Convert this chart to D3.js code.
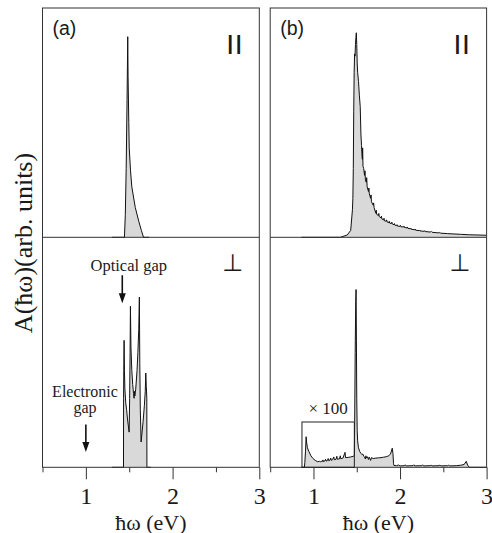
<!DOCTYPE html>
<html>
<head>
<meta charset="utf-8">
<script src="https://cdn.jsdelivr.net/npm/d3@7"></script>
<style>
  body { margin: 0; background: #fff; }
  .serif { font-family: "Liberation Serif", "Times New Roman", serif; }
  .sans { font-family: "Liberation Sans", Arial, sans-serif; }
</style>
</head>
<body>
<div id="chart"></div>
<script>
// photon energy (eV) and absorption (arb. units, 1 = top of the sub-panel)
const aParE = [1.30, 1.445, 1.455, 1.465, 1.475, 1.483, 1.487, 1.495, 1.50, 1.515, 1.53, 1.57, 1.61, 1.64, 1.665, 1.73];
const aParA = [0, 0, 0.1, 0.3, 0.6, 0.875, 0.7, 0.5, 0.39, 0.29, 0.22, 0.13, 0.07, 0.03, 0, 0];

const aPerpE = [1.30, 1.434, 1.435, 1.438, 1.441, 1.445, 1.45, 1.46, 1.47, 1.48, 1.49, 1.499, 1.505, 1.51, 1.514,
  1.52, 1.53, 1.54, 1.55, 1.556, 1.56, 1.565, 1.575, 1.59, 1.60, 1.61, 1.617, 1.622, 1.628, 1.637, 1.645,
  1.66, 1.675, 1.685, 1.691, 1.697, 1.703, 1.704, 1.75];
const aPerpA = [0, 0, 0.3, 0.45, 0.552, 0.42, 0.34, 0.28, 0.25, 0.21, 0.18, 0.153, 0.3, 0.5, 0.70,
  0.52, 0.42, 0.36, 0.32, 0.30, 0.33, 0.31, 0.34, 0.42, 0.5, 0.6, 0.74, 0.45, 0.25, 0.11, 0.14,
  0.2, 0.27, 0.33, 0.41, 0.35, 0.3, 0, 0];

const bParE = [0.86, 1.31, 1.39, 1.43, 1.45, 1.455, 1.46, 1.465, 1.47, 1.475, 1.48, 1.485, 1.49, 1.495, 1.50,
  1.505, 1.51, 1.52, 1.53, 1.54, 1.548, 1.555, 1.56, 1.565, 1.568, 1.572, 1.58, 1.59, 1.595, 1.60, 1.61,
  1.615, 1.62, 1.635, 1.64, 1.645, 1.66, 1.665, 1.67, 1.69, 1.695, 1.70, 1.72, 1.725, 1.73, 1.75, 1.755,
  1.76, 1.78, 1.785, 1.79, 1.81, 1.815, 1.82, 1.84, 1.845, 1.85, 1.87, 1.875, 1.88, 1.90, 1.905, 1.91,
  1.93, 1.935, 1.94, 1.96, 1.965, 1.97, 2.00, 2.005, 2.01, 2.04, 2.045, 2.05, 2.08, 2.085, 2.09, 2.12,
  2.125, 2.13, 2.17, 2.175, 2.18, 2.22, 2.225, 2.23, 2.28, 2.285, 2.29, 2.35, 2.36, 2.37, 2.45, 2.46,
  2.47, 2.55, 2.60, 2.70, 2.80, 2.90, 3.00];
const bParA = [0, 0, 0.01, 0.03, 0.12, 0.17, 0.3, 0.55, 0.72, 0.8, 0.79, 0.84, 0.87, 0.892, 0.84,
  0.76, 0.72, 0.68, 0.62, 0.57, 0.45, 0.40, 0.36, 0.34, 0.39, 0.31, 0.30, 0.27, 0.29, 0.25, 0.24,
  0.26, 0.22, 0.20, 0.215, 0.19, 0.17, 0.185, 0.155, 0.14, 0.15, 0.13, 0.105, 0.118, 0.10, 0.095, 0.104,
  0.09, 0.085, 0.092, 0.08, 0.076, 0.083, 0.072, 0.07, 0.076, 0.067, 0.064, 0.07, 0.062, 0.06, 0.066, 0.058,
  0.055, 0.06, 0.053, 0.051, 0.055, 0.049, 0.048, 0.052, 0.046, 0.045, 0.049, 0.043, 0.041, 0.045, 0.039, 0.037,
  0.040, 0.035, 0.033, 0.036, 0.031, 0.029, 0.032, 0.028, 0.026, 0.029, 0.025, 0.023, 0.026, 0.022, 0.019, 0.021,
  0.018, 0.016, 0.015, 0.013, 0.011, 0.01, 0.009];

const bPerpE = [0.86, 0.895, 0.90, 0.908, 0.915, 0.92, 0.93, 0.945, 0.956, 0.97, 0.995, 1.02, 1.05, 1.07, 1.08,
  1.09, 1.10, 1.11, 1.115, 1.13, 1.14, 1.145, 1.16, 1.17, 1.175, 1.19, 1.20, 1.205, 1.22, 1.235, 1.24,
  1.26, 1.27, 1.275, 1.30, 1.31, 1.315, 1.34, 1.365, 1.37, 1.40, 1.43, 1.46, 1.472, 1.476, 1.482, 1.488,
  1.492, 1.496, 1.50, 1.505, 1.51, 1.52, 1.535, 1.55, 1.56, 1.57, 1.58, 1.59, 1.60, 1.605, 1.615, 1.625,
  1.635, 1.645, 1.66, 1.67, 1.69, 1.72, 1.75, 1.78, 1.81, 1.84, 1.87, 1.89, 1.91, 1.918, 1.925, 1.93,
  1.96, 1.98, 2.0, 2.05, 2.06, 2.07, 2.15, 2.16, 2.17, 2.25, 2.26, 2.27, 2.35, 2.36, 2.37, 2.45,
  2.46, 2.47, 2.55, 2.56, 2.57, 2.65, 2.70, 2.74, 2.765, 2.78, 2.80, 3.0];
const bPerpA = [0, 0, 0.02, 0.07, 0.133, 0.11, 0.085, 0.07, 0.062, 0.05, 0.038, 0.03, 0.024, 0.026, 0.023,
  0.027, 0.024, 0.032, 0.025, 0.027, 0.035, 0.027, 0.029, 0.038, 0.029, 0.031, 0.04, 0.03, 0.033, 0.045, 0.033,
  0.035, 0.048, 0.035, 0.037, 0.05, 0.037, 0.04, 0.065, 0.042, 0.043, 0.045, 0.048, 0.05, 0.2, 0.5, 0.72,
  0.773, 0.55, 0.3, 0.16, 0.115, 0.085, 0.068, 0.06, 0.055, 0.058, 0.048, 0.045, 0.036, 0.05, 0.04, 0.046,
  0.034, 0.044, 0.03, 0.042, 0.038, 0.04, 0.041, 0.042, 0.044, 0.046, 0.05, 0.058, 0.083, 0.06, 0.015, 0.008,
  0.007, 0.01, 0.006, 0.007, 0.011, 0.006, 0.007, 0.011, 0.006, 0.007, 0.011, 0.006, 0.007, 0.01, 0.006, 0.007,
  0.01, 0.006, 0.007, 0.01, 0.006, 0.007, 0.009, 0.012, 0.026, 0.01, 0, 0];

// "x 100" inset box in (b) perp, eV range and height
const boxE = [0.867, 1.472];
const boxTop = 0.197;

const majorTicks = [1, 2, 3];
const minorTicks = [0.5, 1.5, 2.5];

const width = 492;
const height = 533;
const fillGrey = "#d9d9d9";
const ink = "#1a1a1a";

const svg = d3.create("svg")
  .attr("width", width)
  .attr("height", height)
  .attr("viewBox", [0, 0, width, height]);

svg.append("rect").attr("width", width).attr("height", height).attr("fill", "#fff");

const yTop = d3.scaleLinear([0, 1], [237.3, 8]);
const yBot = d3.scaleLinear([0, 1], [467.3, 237.3]);

const panels = [
  { x: d3.scaleLinear([0.5, 3], [42.5, 259.3]), label: "(a)", par: [aParE, aParA], perp: [aPerpE, aPerpA] },
  { x: d3.scaleLinear([0.5, 3], [270.2, 486.6]), label: "(b)", par: [bParE, bParA], perp: [bPerpE, bPerpA] }
];

function drawCurve(g, x, y, [es, as]) {
  const pts = es.map((e, i) => [e, as[i]]);
  g.append("path")
    .datum(pts)
    .attr("d", d3.area().x((d) => x(d[0])).y0(y(0)).y1((d) => y(d[1])))
    .attr("fill", fillGrey);
  g.append("path")
    .datum(pts)
    .attr("d", d3.line().x((d) => x(d[0])).y((d) => y(d[1])))
    .attr("fill", "none")
    .attr("stroke", "#111")
    .attr("stroke-width", 1)
    .attr("stroke-linejoin", "round");
}

panels.forEach((p) => {
  const g = svg.append("g");
  const [x0, x1] = p.x.range();

  drawCurve(g, p.x, yTop, p.par);
  drawCurve(g, p.x, yBot, p.perp);

  // frame and divider
  g.append("rect")
    .attr("x", x0).attr("y", yTop(1))
    .attr("width", x1 - x0).attr("height", yBot(0) - yTop(1))
    .attr("fill", "none").attr("stroke", "#333").attr("stroke-width", 1);
  g.append("line")
    .attr("x1", x0).attr("x2", x1)
    .attr("y1", yTop(0)).attr("y2", yTop(0))
    .attr("stroke", "#333").attr("stroke-width", 1);

  // axis
  const axisMajor = g.append("g")
    .attr("transform", `translate(0,${yBot(0)})`)
    .call(d3.axisBottom(p.x).tickValues(majorTicks).tickSize(12).tickPadding(7.5).tickFormat(d3.format("d")));
  axisMajor.select(".domain").remove();
  axisMajor.attr("font-family", null).attr("font-size", null);
  axisMajor.selectAll("text")
    .attr("class", "serif")
    .style("font-size", "24px")
    .attr("fill", ink);
  axisMajor.selectAll("line").attr("stroke", "#333");

  const axisMinor = g.append("g")
    .attr("transform", `translate(0,${yBot(0)})`)
    .call(d3.axisBottom(p.x).tickValues(minorTicks).tickSize(5).tickFormat(""));
  axisMinor.select(".domain").remove();
  axisMinor.selectAll("line").attr("stroke", "#333");

  g.append("text")
    .attr("class", "serif")
    .attr("x", (x0 + x1) / 2)
    .attr("y", 529.5)
    .attr("text-anchor", "middle")
    .style("font-size", "22px")
    .attr("fill", ink)
    .text("ħω (eV)");

  // panel labels and polarisation symbols
  g.append("text")
    .attr("class", "sans")
    .attr("x", x0 + 10).attr("y", 34.5)
    .style("font-size", "19.5px").attr("fill", ink)
    .text(p.label);
  g.append("text")
    .attr("class", "sans")
    .attr("x", x1 - 32).attr("y", 50)
    .style("font-size", "21px").style("font-weight", "bold").attr("letter-spacing", 2.5).attr("fill", ink)
    .text("||");
  g.append("text")
    .attr("x", x1 - 37).attr("y", 271)
    .style("font-family", "'DejaVu Sans', sans-serif").style("font-size", "24px").attr("fill", ink)
    .text("⊥");
});

// y label
svg.append("text")
  .attr("class", "serif")
  .attr("transform", "translate(32,243) rotate(-90)")
  .attr("text-anchor", "middle")
  .style("font-size", "26px")
  .attr("fill", ink)
  .text("A(ħω)(arb. units)");

// annotations in panel (a) perp
const xa = panels[0].x;
function arrow(e, yFrom, yTo) {
  const xPos = xa(e);
  const y0 = yBot(yFrom);
  const y1 = yBot(yTo);
  svg.append("line")
    .attr("x1", xPos).attr("x2", xPos)
    .attr("y1", y0).attr("y2", y1 - 8)
    .attr("stroke", "#111").attr("stroke-width", 1.6);
  svg.append("path")
    .attr("d", `M${xPos - 3.5},${y1 - 10}L${xPos + 3.5},${y1 - 10}L${xPos},${y1}Z`)
    .attr("fill", "#111");
}

svg.append("text")
  .attr("class", "serif")
  .attr("x", xa(1.495)).attr("y", yBot(0.853))
  .attr("text-anchor", "middle")
  .style("font-size", "16.5px").attr("fill", ink)
  .text("Optical gap");
arrow(1.42, 0.835, 0.713);

svg.append("text")
  .attr("class", "serif")
  .attr("x", xa(0.99)).attr("y", yBot(0.304))
  .attr("text-anchor", "middle")
  .style("font-size", "16px").attr("fill", ink)
  .text("Electronic");
svg.append("text")
  .attr("class", "serif")
  .attr("x", xa(0.99)).attr("y", yBot(0.236))
  .attr("text-anchor", "middle")
  .style("font-size", "16px").attr("fill", ink)
  .text("gap");
arrow(1, 0.186, 0.067);

// x100 box in panel (b) perp
const xb = panels[1].x;
svg.append("rect")
  .attr("x", xb(boxE[0])).attr("y", yBot(boxTop))
  .attr("width", xb(boxE[1]) - xb(boxE[0]))
  .attr("height", yBot(0) - yBot(boxTop))
  .attr("fill", "none").attr("stroke", "#222").attr("stroke-width", 1);
svg.append("text")
  .attr("class", "serif")
  .attr("x", xb(1.17)).attr("y", yBot(0.23))
  .attr("text-anchor", "middle")
  .style("font-size", "17px").attr("fill", ink)
  .text("× 100");

d3.select("#chart").append(() => svg.node());
</script>
</body>
</html>
